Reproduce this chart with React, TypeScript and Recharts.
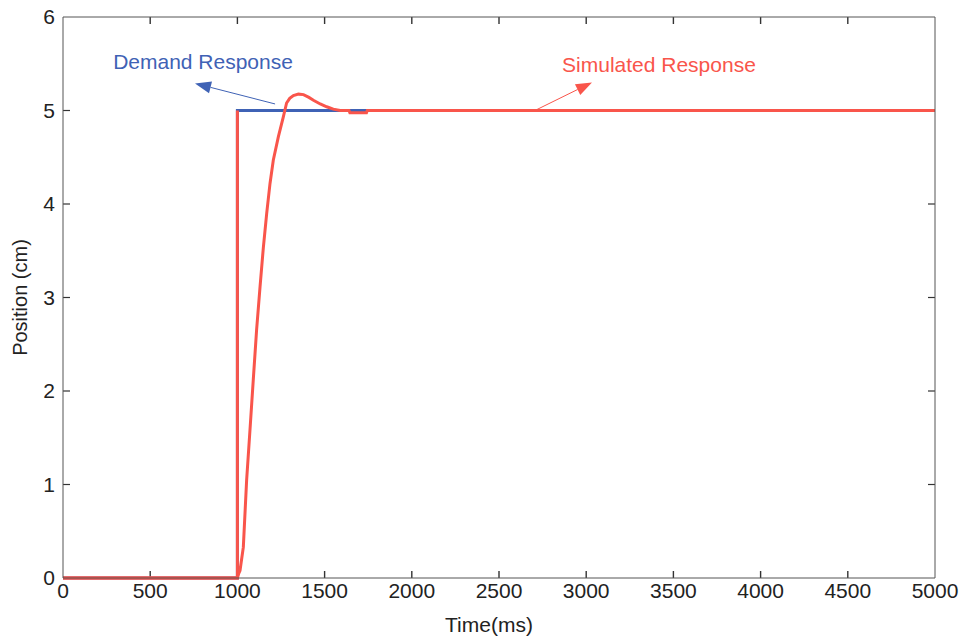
import React from 'react';
import { LineChart, Line, XAxis, YAxis, ReferenceLine, ReferenceDot, Label } from 'recharts';

// step demand (ms, cm)
const demandTime = [0, 1000, 1000, 1750];
const demandPos = [0, 0, 5, 5];

// simulated response
const simTime = [0, 1000, 1008, 1015, 1034, 1053, 1072, 1091, 1110, 1130, 1149, 1168, 1187, 1206, 1235, 1263, 1282, 1300, 1321, 1350, 1379, 1410, 1436, 1475, 1512, 1550, 1589, 1640, 1645, 1740, 1745, 1800, 5000];
const simPos = [0, 0, 0.05, 0.08, 0.33, 1.05, 1.58, 2.12, 2.65, 3.12, 3.54, 3.9, 4.22, 4.47, 4.72, 4.93, 5.08, 5.13, 5.16, 5.175, 5.17, 5.14, 5.11, 5.07, 5.04, 5.015, 5.0, 5.0, 4.975, 4.975, 5.0, 5.0, 5.0];

const xTicks = [0, 500, 1000, 1500, 2000, 2500, 3000, 3500, 4000, 4500, 5000];
const yTicks = [0, 1, 2, 3, 4, 5, 6];

const RED = '#f9554b';
const BLUE = '#3f62b5';
const AXIS = '#555';
const TICK = '#333';
const FONT = '"Liberation Sans", Arial, sans-serif';
const TL = 7; // inward tick length, px

const demand = demandTime.map((t, i) => ({ t, v: demandPos[i] }));
const sim = simTime.map((t, i) => ({ t, v: simPos[i] }));

const arrowShape = (color: string) => (props: any) => {
    const { x1, y1, x2, y2 } = props;
    const ang = Math.atan2(y2 - y1, x2 - x1);
    const len = 16;
    const w = 6;
    const bx = x2 - len * Math.cos(ang);
    const by = y2 - len * Math.sin(ang);
    const px = -Math.sin(ang) * w;
    const py = Math.cos(ang) * w;
    return (
        <g>
            <line x1={x1} y1={y1} x2={bx} y2={by} stroke={color} strokeWidth={1} />
            <polygon points={`${x2},${y2} ${bx + px},${by + py} ${bx - px},${by - py}`} fill={color} />
        </g>
    );
};

// short inward marks at both ends of a full-height / full-width reference line
const xTickShape = (p: any) => {
    const x = Number(p.x1 ?? p.x2);
    const top = Math.min(Number(p.y1), Number(p.y2));
    const bot = Math.max(Number(p.y1), Number(p.y2));
    return (
        <g>
            <rect x={x - 0.7} y={bot - TL} width={1.4} height={TL} fill={TICK} />
            <rect x={x - 0.7} y={top} width={1.4} height={TL} fill={TICK} />
        </g>
    );
};
const yTickShape = (p: any) => {
    const l = Math.min(p.x1, p.x2);
    const r = Math.max(p.x1, p.x2);
    return (
        <g>
            <line x1={l} y1={p.y1} x2={l + TL} y2={p.y1} stroke={TICK} strokeWidth={1.2} />
            <line x1={r} y1={p.y1} x2={r - TL} y2={p.y1} stroke={TICK} strokeWidth={1.2} />
        </g>
    );
};

const tickFont = { fill: '#222', fontSize: 21, fontFamily: FONT };

const App = () => {
    const xt = xTicks.slice(1, -1);
    const yt = yTicks.slice(1, -1);
    return (
        <div style={{ position: 'absolute', left: 0, top: 0, background: '#fff' }}>
            <LineChart width={965} height={640} margin={{ top: 16, right: 29, left: 0, bottom: 0 }}>
                <XAxis
                    xAxisId="b"
                    dataKey="t"
                    type="number"
                    domain={[0, 5000]}
                    ticks={xTicks}
                    allowDataOverflow
                    height={62}
                    stroke={AXIS}
                    tickLine={false}
                    tickSize={0}
                    tickMargin={5}
                    tick={tickFont}
                >
                    <Label value="Time(ms)" position="insideBottom" offset={8} dx={-10} style={{ fill: '#222', fontSize: 21, fontFamily: FONT }} />
                </XAxis>
                <XAxis xAxisId="t" orientation="top" dataKey="t" type="number" domain={[0, 5000]} ticks={xTicks} height={1} stroke={AXIS} tickLine={false} tick={false} />
                <YAxis
                    yAxisId="l"
                    type="number"
                    domain={[0, 6]}
                    ticks={yTicks}
                    width={63}
                    stroke={AXIS}
                    tickLine={false}
                    tickSize={0}
                    tickMargin={8}
                    tick={tickFont}
                >
                    <Label
                        content={(p: any) => {
                            const vb = p.viewBox || { x: 0, y: 17, width: 63, height: 561 };
                            const cx = vb.x + 20;
                            const cy = vb.y + vb.height / 2;
                            return (
                                <text x={cx} y={cy} transform={`rotate(-90 ${cx} ${cy})`} textAnchor="middle" dominantBaseline="central" fill="#222" fontSize={20} fontFamily={FONT}>
                                    Position (cm)
                                </text>
                            );
                        }}
                    />
                </YAxis>
                <YAxis yAxisId="r" orientation="right" type="number" domain={[0, 6]} ticks={yTicks} width={1} stroke={AXIS} tickLine={false} tick={false} />

                {/* inward tick marks on all four sides */}
                {xt.map((t) => (
                    <ReferenceLine key={'x' + t} xAxisId="b" yAxisId="l" x={t} shape={xTickShape} />
                ))}
                {yt.map((v) => (
                    <ReferenceLine key={'y' + v} xAxisId="b" yAxisId="l" y={v} shape={yTickShape} />
                ))}

                <Line xAxisId="b" yAxisId="l" data={demand} dataKey="v" stroke={BLUE} strokeWidth={3} dot={false} isAnimationActive={false} />
                <Line xAxisId="b" yAxisId="l" data={demand.slice(0, 3)} dataKey="v" stroke={RED} strokeWidth={3} dot={false} isAnimationActive={false} />
                <Line xAxisId="b" yAxisId="l" data={sim} dataKey="v" stroke={RED} strokeWidth={3} dot={false} isAnimationActive={false} />

                <ReferenceLine
                    xAxisId="b"
                    yAxisId="l"
                    segment={[{ x: 1216, y: 5.07 }, { x: 757, y: 5.29 }]}
                    shape={arrowShape(BLUE)}
                />
                <ReferenceLine
                    xAxisId="b"
                    yAxisId="l"
                    segment={[{ x: 2706, y: 5.0 }, { x: 3033, y: 5.3 }]}
                    shape={arrowShape(RED)}
                />
                <ReferenceDot xAxisId="b" yAxisId="l" x={803} y={5.52} r={0} stroke="none" fill="none"
                    label={{ value: 'Demand Response', position: 'center', fill: BLUE, fontSize: 21, fontFamily: FONT }} />
                <ReferenceDot xAxisId="b" yAxisId="l" x={3417} y={5.49} r={0} stroke="none" fill="none"
                    label={{ value: 'Simulated Response', position: 'center', fill: RED, fontSize: 21, fontFamily: FONT }} />
            </LineChart>
        </div>
    );
};

export default App;
